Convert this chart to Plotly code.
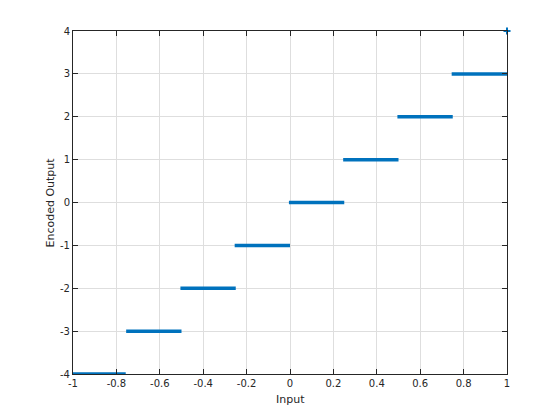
import plotly.graph_objects as go

levels = [-4, -3, -2, -1, 0, 1, 2, 3]
seg_start = [-1.0, -0.755, -0.505, -0.255, -0.005, 0.245, 0.495, 0.745]
seg_end = [-0.757, -0.5, -0.25, 0.0, 0.25, 0.5, 0.75, 1.0]
end_x = [1.0]
end_y = [4]
x_ticks = [-1, -0.8, -0.6, -0.4, -0.2, 0, 0.2, 0.4, 0.6, 0.8, 1]
x_labels = ["-1", "-0.8", "-0.6", "-0.4", "-0.2", "0", "0.2", "0.4", "0.6", "0.8", "1"]
y_ticks = [-4, -3, -2, -1, 0, 1, 2, 3, 4]
y_labels = ["-4", "-3", "-2", "-1", "0", "1", "2", "3", "4"]

xs, ys = [], []
for a, b, y in zip(seg_start, seg_end, levels):
    xs += [a, b, None]
    ys += [y, y, None]

blue = "#0072BD"
txt = "#262626"
fig = go.Figure()
fig.add_trace(go.Scatter(x=xs, y=ys, mode="lines", line=dict(color=blue, width=3.5),
                         cliponaxis=False, showlegend=False, hoverinfo="skip"))
fig.add_trace(go.Scatter(x=end_x, y=end_y, mode="markers",
                         marker=dict(color=blue, size=5, symbol="cross-thin", line=dict(color=blue, width=2)),
                         cliponaxis=False, showlegend=False))

axis_common = dict(showgrid=True, gridcolor="#dedede", gridwidth=1, zeroline=False,
                   showline=True, linecolor=txt, linewidth=1, mirror="allticks",
                   ticks="inside", ticklen=5, tickcolor=txt,
                   tickfont=dict(family="DejaVu Sans", size=10, color=txt))

fig.update_layout(
    width=552, height=412,
    margin=dict(l=65, r=53, t=23, b=46),
    paper_bgcolor="white", plot_bgcolor="white",
    xaxis=dict(range=[-1, 1], tickvals=x_ticks, ticktext=x_labels, **axis_common),
    yaxis=dict(range=[-4, 4], tickvals=y_ticks, ticktext=y_labels, **axis_common),
    annotations=[
        dict(text="Input", xref="paper", yref="paper", x=0.5, y=0, yshift=-25,
             showarrow=False, xanchor="center", yanchor="middle",
             font=dict(family="DejaVu Sans", size=11, color=txt)),
        dict(text="Encoded Output", xref="paper", yref="paper", x=0, y=0.5, xshift=-23,
             textangle=-90, showarrow=False, xanchor="center", yanchor="middle",
             font=dict(family="DejaVu Sans", size=11, color=txt)),
    ],
)
fig.write_html("out.html")
